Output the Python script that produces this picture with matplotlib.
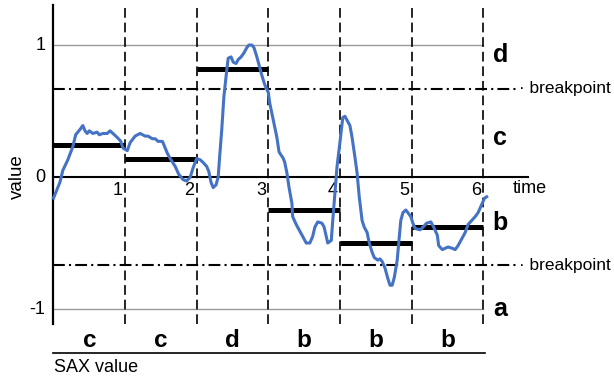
import numpy as np
import matplotlib
matplotlib.use('Agg')
import matplotlib.pyplot as plt

plt.rcParams['font.family'] = ['Liberation Sans', 'DejaVu Sans']
plt.rcParams['lines.scale_dashes'] = False

# time series
time = [0.00, 0.03, 0.09, 0.13, 0.20, 0.27, 0.31, 0.37, 0.41, 0.44, 0.47, 0.50,
        0.55, 0.61, 0.64, 0.69, 0.75, 0.79, 0.83, 0.89, 0.94, 0.97, 1.03,
        1.07, 1.14, 1.21, 1.28, 1.32, 1.38, 1.42, 1.46, 1.52, 1.53, 1.59, 1.63,
        1.70, 1.75, 1.81, 1.86, 1.91, 1.95, 2.00,
        2.05, 2.09, 2.14, 2.17, 2.20, 2.23, 2.27, 2.30, 2.32, 2.35, 2.38, 2.42,
        2.44, 2.48, 2.51, 2.55, 2.58, 2.62, 2.66, 2.70, 2.73, 2.77, 2.80, 2.84,
        2.87, 2.91, 2.95, 3.00,
        3.02, 3.07, 3.12, 3.15, 3.21, 3.23, 3.26, 3.29, 3.33, 3.34, 3.39, 3.43,
        3.48, 3.53, 3.58, 3.62, 3.65, 3.69, 3.75, 3.78, 3.81, 3.83, 3.88, 3.90,
        3.93, 3.96, 4.00, 4.04,
        4.07, 4.11, 4.14, 4.17, 4.21, 4.24, 4.27, 4.31, 4.34, 4.38, 4.41, 4.45,
        4.48, 4.53, 4.56, 4.59, 4.63, 4.67, 4.70, 4.73, 4.76, 4.80, 4.83, 4.85,
        4.88, 4.92, 4.95, 4.99, 5.02,
        5.05, 5.12, 5.16, 5.21, 5.27, 5.31, 5.36, 5.38, 5.43, 5.47, 5.51, 5.57,
        5.61, 5.65, 5.71, 5.75, 5.79, 5.84, 5.89, 5.93, 5.98, 6.02, 6.05]
value = [-0.16, -0.12, -0.04, 0.05, 0.13, 0.23, 0.32, 0.36, 0.39, 0.35, 0.33, 0.35,
         0.33, 0.34, 0.32, 0.33, 0.33, 0.35, 0.33, 0.30, 0.27, 0.22, 0.20,
         0.26, 0.31, 0.33, 0.31, 0.31, 0.29, 0.29, 0.27, 0.27, 0.26, 0.18, 0.14,
         0.08, 0.02, -0.02, -0.03, 0.00, 0.07, 0.14,
         0.13, 0.11, 0.08, 0.04, -0.04, -0.08, -0.06, 0.00, 0.15, 0.36, 0.61, 0.81,
         0.90, 0.91, 0.87, 0.86, 0.89, 0.91, 0.94, 0.98, 1.00, 1.00, 0.98, 0.91,
         0.85, 0.77, 0.70, 0.64,
         0.56, 0.43, 0.30, 0.19, 0.14, 0.11, 0.03, -0.08, -0.20, -0.30, -0.36, -0.40,
         -0.45, -0.50, -0.50, -0.45, -0.38, -0.34, -0.35, -0.38, -0.45, -0.50, -0.48, -0.33,
         -0.12, 0.08, 0.26, 0.45,
         0.46, 0.42, 0.39, 0.30, 0.15, 0.03, -0.15, -0.33, -0.38, -0.42, -0.50, -0.57,
         -0.61, -0.63, -0.62, -0.64, -0.69, -0.77, -0.82, -0.82, -0.76, -0.63, -0.45, -0.33,
         -0.27, -0.25, -0.27, -0.30, -0.35,
         -0.39, -0.40, -0.38, -0.35, -0.34, -0.38, -0.44, -0.52, -0.55, -0.54, -0.53, -0.54,
         -0.55, -0.52, -0.46, -0.42, -0.36, -0.33, -0.30, -0.27, -0.21, -0.16, -0.15]

# PAA segment means and SAX symbols
seg_means = [0.24, 0.14, 0.82, -0.25, -0.50, -0.38]
sax_letters = ['c', 'c', 'd', 'b', 'b', 'b']
breakpoints = [-0.67, 0.67]
region_letters = ['a', 'b', 'c', 'd']
region_y = [-1.05, -0.40, 0.24, 0.87]
time_ticks = [1, 2, 3, 4, 5, 6]
value_ticks = [-1, 0, 1]

fig = plt.figure(figsize=(6.14, 3.77), dpi=100)
ax = fig.add_axes([0, 0, 1, 1])
ax.set_xlim(-0.747, 7.828)
ax.set_ylim(-1.515, 1.341)
ax.axis('off')

top, bottom = 1.30, -1.115

# grey lines at +/-1
for v in [-1, 1]:
    ax.plot([0, 6], [v, v], color='#999999', lw=1.0, zorder=1)

# breakpoints
for bp in breakpoints:
    ax.plot([0, 6.47], [bp, bp], color='black', lw=1.5,
            linestyle=(0, (8.5, 3, 1.5, 3)), zorder=2)
    ax.text(6.50, bp, '· breakpoint', fontsize=12.5, ha='left', va='center')

# segment boundaries
for t in time_ticks:
    ax.plot([t, t], [bottom, top], color='black', lw=1.2,
            linestyle=(0, (7, 3.5)), zorder=2)
    ax.text(t - 0.03, -0.04, str(t), fontsize=13, ha='right', va='top')

# axes
ax.plot([0, 0], [bottom, top], color='black', lw=1.6, zorder=3)
ax.plot([0, 6.63], [0, 0], color='black', lw=1.5, zorder=3)
ax.text(6.42, -0.12, 'time', fontsize=13, ha='left', va='baseline')
for v in value_ticks:
    ax.text(-0.11, v, str(v), fontsize=13, ha='right', va='center')
ax.text(-0.51, 0.0, 'value', fontsize=13.5, rotation=90, ha='center', va='center')

# segment means
for i, m in enumerate(seg_means):
    ax.plot([i, i + 1], [m, m], color='black', lw=3.6, solid_capstyle='butt', zorder=4)

# series
ax.plot(time, value, color='#4472C4', lw=2.2, zorder=5)

# region letters on the right
for letter, y in zip(region_letters, region_y):
    ax.text(6.24, y, letter, fontsize=18, fontweight='bold', ha='center', va='baseline')

# SAX word below
for i, letter in enumerate(sax_letters):
    ax.text(i + 0.5, -1.29, letter, fontsize=17.5, fontweight='bold', ha='center', va='baseline')
ax.plot([0, 6.02], [-1.33, -1.33], color='black', lw=1.2)
ax.text(0.01, -1.475, 'SAX value', fontsize=13, ha='left', va='baseline')

fig.savefig('out.png', dpi=100)
